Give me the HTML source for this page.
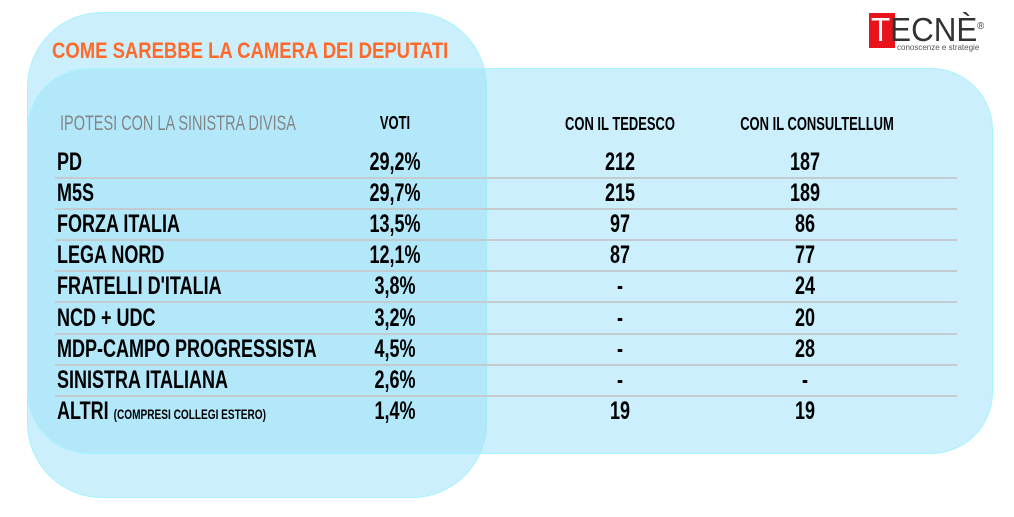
<!DOCTYPE html>
<html><head><meta charset="utf-8"><style>
body{margin:0;width:1014px;height:517px;background:#fff;position:relative;overflow:hidden;font-family:"Liberation Sans",sans-serif}
.box{position:absolute;box-sizing:border-box;border:1.5px solid #a8f4fb;background:rgba(160,225,250,0.55)}
.t{position:absolute;white-space:nowrap;font-weight:bold;transform-origin:0 50%;transform:scaleX(0.72);line-height:1}
.c{transform-origin:50% 50%}
.line{position:absolute;height:2px;background:#c4cbcf;left:55px;width:902px}
</style></head><body>
<div class="box" style="left:27px;top:12px;width:460px;height:486px;border-radius:75px"></div>
<div class="box" style="left:27px;top:68px;width:966px;height:386px;border-radius:62px"></div>
<div class="t" style="left:52px;top:40px;font-size:22px;color:#ff6a2b;font-weight:900;transform:scaleX(0.84)">COME SAREBBE LA CAMERA DEI DEPUTATI</div>
<div style="position:absolute;left:869px;top:13px;width:26px;height:35px;background:#e8131c"></div>
<div class="t" style="left:871px;top:13px;font-size:33px;font-weight:normal;color:#333;transform:scaleX(0.95)"><span style="color:#fff">T</span>ECNÈ<sup style="font-size:10px">®</sup></div>
<div class="t" style="left:897px;top:44px;font-size:8px;font-weight:normal;color:#555;transform:none">conoscenze e strategie</div>
<div class="t" style="left:60px;top:113px;font-size:21px;color:#858585;font-weight:normal;transform:scaleX(0.69)">IPOTESI CON LA SINISTRA DIVISA</div>
<div class="t c" style="left:355px;width:80px;text-align:center;top:114px;font-size:18px">VOTI</div>
<div class="t c" style="left:540px;width:160px;text-align:center;top:115px;font-size:18px">CON IL TEDESCO</div>
<div class="t c" style="left:715px;width:180px;text-align:center;top:115px;font-size:18px">CON IL CONSULTELLUM</div>
<div id="rows"></div>
<script>
const parties=["PD","M5S","FORZA ITALIA","LEGA NORD","FRATELLI D'ITALIA","NCD + UDC","MDP-CAMPO PROGRESSISTA","SINISTRA ITALIANA","ALTRI"];
const voti=["29,2%","29,7%","13,5%","12,1%","3,8%","3,2%","4,5%","2,6%","1,4%"];
const tedesco=["212","215","97","87","-","-","-","-","19"];
const consultellum=["187","189","86","77","24","20","28","-","19"];
const root=document.getElementById('rows');
function rowY(i){return 150+i*31.1;}
function add(txt,left,width,top,cls,name,size){
  const d=document.createElement('div');
  d.className='t'+(cls?' '+cls:'');
  
  
  d.style.left=left+'px';d.style.top=top+'px';d.style.fontSize=size+'px';
  if(width){d.style.width=width+'px';d.style.textAlign='center';}
  d.innerHTML=txt;root.appendChild(d);return d;
}
parties.forEach((p,i)=>{
  const y=rowY(i);
  let label=p;
  if(p==="ALTRI") label='ALTRI <span style="font-size:14px">(COMPRESI COLLEGI ESTERO)</span>';
  add(label,57,0,y,'','party-label',25);
  add(voti[i],345,100,y,'c','voti-value',25);
  add(tedesco[i],570,100,y,'c','tedesco-value',25);
  add(consultellum[i],755,100,y,'c','consultellum-value',25);
  if(i<parties.length-1){
    const l=document.createElement('div');l.className='line';
    
    
    l.style.top=(y+27)+'px';root.appendChild(l);
  }
});
</script>
</body></html>
